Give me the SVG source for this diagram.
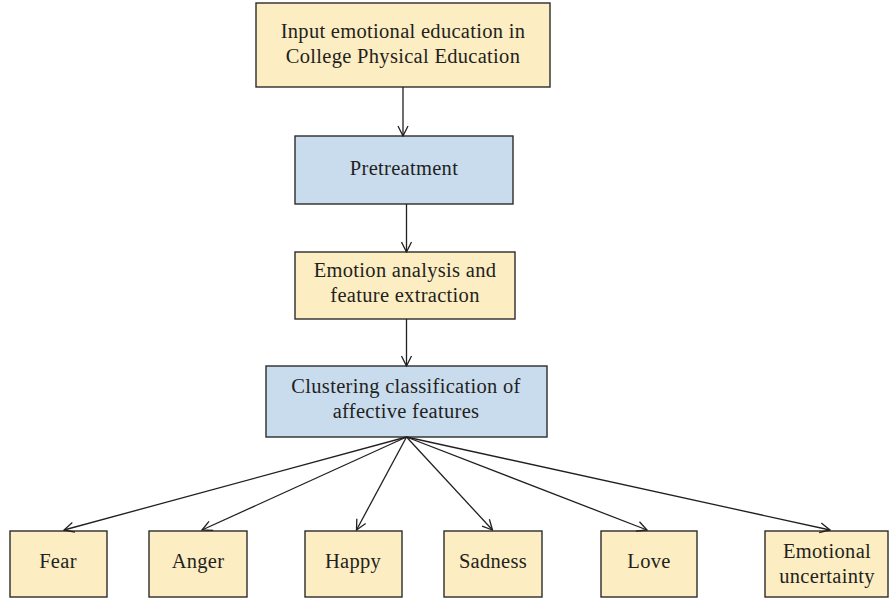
<svg xmlns="http://www.w3.org/2000/svg" width="889" height="599" viewBox="0 0 889 599">
<style>
.y{fill:#fdedc2;stroke:#2b2b2b;stroke-width:1.4}
.b{fill:#c9dcee;stroke:#2b2b2b;stroke-width:1.4}
text{font-family:"Liberation Serif","Times New Roman",serif;font-size:20.5px;letter-spacing:0.3px;fill:#231f20;text-anchor:middle}
.c line{stroke:#231f20;stroke-width:1.3}
</style>
<defs>
<marker id="a" viewBox="0 0 12 12" refX="11" refY="6" markerWidth="12" markerHeight="12" markerUnits="userSpaceOnUse" orient="auto">
<path d="M1,1 L11,6 L1,11" fill="none" stroke="#231f20" stroke-width="1.3"/>
</marker>
</defs>
<g id="n1"><rect class="y" x="256" y="3" width="294" height="84"/><text x="403" y="38">Input emotional education in</text><text x="403" y="63">College Physical Education</text></g>
<g id="n2"><rect class="b" x="295" y="136" width="218" height="68"/><text x="404" y="175">Pretreatment</text></g>
<g id="n3"><rect class="y" x="295" y="252" width="220" height="67"/><text x="405" y="277">Emotion analysis and</text><text x="405" y="302">feature extraction</text></g>
<g id="n4"><rect class="b" x="266" y="366" width="281" height="71"/><text x="406" y="393">Clustering classification of</text><text x="406" y="418">affective features</text></g>
<g id="n5"><rect class="y" x="10" y="531" width="97" height="66"/><text x="58" y="568">Fear</text></g>
<g id="n6"><rect class="y" x="149" y="531" width="98" height="66"/><text x="198" y="568">Anger</text></g>
<g id="n7"><rect class="y" x="305" y="531" width="97" height="66"/><text x="353" y="568">Happy</text></g>
<g id="n8"><rect class="y" x="444" y="531" width="98" height="66"/><text x="493" y="568">Sadness</text></g>
<g id="n9"><rect class="y" x="601" y="531" width="96" height="66"/><text x="649" y="568">Love</text></g>
<g id="n10"><rect class="y" x="765" y="531" width="123" height="66"/><text x="827" y="558">Emotional</text><text x="827" y="583">uncertainty</text></g>
<g class="c" id="connectors">
<line x1="403" y1="87" x2="403" y2="136" marker-end="url(#a)"/>
<line x1="406.5" y1="204" x2="406.5" y2="252" marker-end="url(#a)"/>
<line x1="406.5" y1="319" x2="406.5" y2="366" marker-end="url(#a)"/>
<line x1="406.5" y1="437" x2="64" y2="530" marker-end="url(#a)"/>
<line x1="406.5" y1="437" x2="202" y2="530" marker-end="url(#a)"/>
<line x1="406.5" y1="437" x2="356.5" y2="530" marker-end="url(#a)"/>
<line x1="406.5" y1="437" x2="492.5" y2="530" marker-end="url(#a)"/>
<line x1="406.5" y1="437" x2="647" y2="530" marker-end="url(#a)"/>
<line x1="406.5" y1="437" x2="830" y2="530" marker-end="url(#a)"/>
</g>
</svg>
